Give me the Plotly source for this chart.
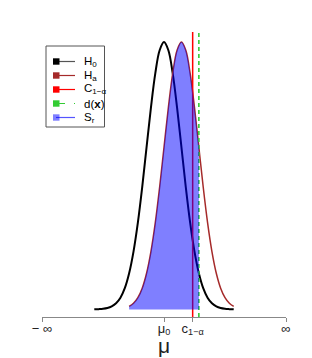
import plotly.graph_objects as go

# ---- data ----
# curve abscissae (in sigma units, mu0 = 0)
h0_x = [-4.0, -3.75, -3.5, -3.25, -3.0, -2.75, -2.5, -2.25, -2.0, -1.75, -1.5, -1.25, -1.0, -0.75, -0.5, -0.25,
        0.0, 0.25, 0.5, 0.75, 1.0, 1.25, 1.5, 1.75, 2.0, 2.25, 2.5, 2.75, 3.0, 3.25, 3.5, 3.75, 4.0]
h0_y = [0.0001, 0.0004, 0.0009, 0.0020, 0.0044, 0.0091, 0.0175, 0.0317, 0.0540, 0.0863, 0.1295, 0.1826, 0.2420,
        0.3011, 0.3521, 0.3867, 0.3989, 0.3867, 0.3521, 0.3011, 0.2420, 0.1826, 0.1295, 0.0863, 0.0540, 0.0317,
        0.0175, 0.0091, 0.0044, 0.0020, 0.0009, 0.0004, 0.0001]
ha_x = [-2.0, -1.75, -1.5, -1.25, -1.0, -0.75, -0.5, -0.25, 0.0, 0.25, 0.5, 0.75, 1.0, 1.25, 1.5, 1.75,
        2.0, 2.25, 2.5, 2.75, 3.0, 3.25, 3.5, 3.75, 4.0]
ha_y = [0.0044, 0.0091, 0.0175, 0.0317, 0.0540, 0.0863, 0.1295, 0.1826, 0.2420, 0.3011, 0.3521, 0.3867, 0.3989,
        0.3867, 0.3521, 0.3011, 0.2420, 0.1826, 0.1295, 0.0863, 0.0540, 0.0317, 0.0175, 0.0091, 0.0044]
crit_value = 1.645      # c_{1-alpha}
obs_value = 2.0         # d(x)
x_limits = [-7, 7]
tick_vals = [-7, 0, 1.645, 7]
tick_text = ["\u2212 \u221e", "\u03bc<sub>0</sub>", "c<sub>1\u2212\u03b1</sub>", "\u221e"]
legend_labels = ["H<sub>0</sub>", "H<sub>a</sub>", "C<sub>1\u2212\u03b1</sub>", "d(<b>x</b>)", "S<sub>r</sub>"]
axis_title = "\u03bc"

# ---- styles ----
OFF = 8                     # page body margin
W, H = 312, 358
# plot area in page pixels: x 42..286, y 32..317
ML, MT = 42 - OFF, 32 - OFF
MR = W - (286 - OFF)
MB = H - (317 - OFF)
Y_RANGE = [-0.01134, 0.4139]
C_H0 = "black"
C_HA = "#A52A2A"
C_C = "red"
C_D = "#33CC33"
C_S = "rgba(0,0,255,0.5)"
FONT = "Liberation Sans, Arial, sans-serif"

fig = go.Figure()

fig.add_trace(go.Scatter(x=h0_x, y=h0_y, mode="lines", line=dict(color=C_H0, width=2, shape="spline"),
                         showlegend=False, hoverinfo="skip"))
fig.add_trace(go.Scatter(x=ha_x, y=ha_y, mode="lines", line=dict(color=C_HA, width=1.5, shape="spline"),
                         showlegend=False, hoverinfo="skip"))
fig.add_trace(go.Scatter(x=[crit_value, crit_value], y=Y_RANGE, mode="lines",
                         line=dict(color=C_C, width=1.5), showlegend=False, hoverinfo="skip"))
fig.add_trace(go.Scatter(x=[obs_value, obs_value], y=Y_RANGE, mode="lines",
                         line=dict(color=C_D, width=1.6, dash="4px,3px"), showlegend=False, hoverinfo="skip"))

# rejection region fill built from Ha curve up to d(x)
fx = [x for x in ha_x if x <= obs_value]
fy = [y for x, y in zip(ha_x, ha_y) if x <= obs_value]
fig.add_trace(go.Scatter(x=fx, y=fy, mode="lines", line=dict(width=0, shape="spline"),
                         fill="tozeroy", fillcolor=C_S, showlegend=False, hoverinfo="skip"))

# ---- custom legend (paper coords from page pixels) ----
pw, ph = W - ML - MR, H - MT - MB
def px(v):
    return (v - OFF - ML) / pw
def py(v):
    return (H - MB - (v - OFF)) / ph

shapes = []
shapes.append(dict(type="rect", xref="paper", yref="paper", x0=px(46), x1=px(104.5), y0=py(127), y1=py(46),
                   line=dict(color="#555555", width=1), fillcolor="white", layer="above"))
leg_colors = [C_H0, C_HA, C_C, C_D, C_S]
leg_lines = ["#555555", C_HA, C_C, C_D, "#5555ff"]
leg_dash = ["solid", "solid", "solid", "dash", "solid"]
annotations = []
for i, lab in enumerate(legend_labels):
    yc = 61.5 + 14 * i
    shapes.append(dict(type="line", xref="paper", yref="paper", x0=px(56), x1=px(75), y0=py(yc), y1=py(yc),
                       line=dict(color=leg_lines[i], width=1.2, dash=leg_dash[i]), layer="above"))
    shapes.append(dict(type="rect", xref="paper", yref="paper", x0=px(53), x1=px(59.5), y0=py(yc + 3.2),
                       y1=py(yc - 3.2), line=dict(width=0), fillcolor=leg_colors[i], layer="above"))
    annotations.append(dict(xref="paper", yref="paper", x=px(81.5), y=py(yc), text=lab, showarrow=False,
                            xanchor="left", yanchor="middle", font=dict(size=11.5, color="black", family=FONT)))

# axis title as annotation for exact placement
annotations.append(dict(xref="x", yref="paper", x=0, y=py(345), text=axis_title, showarrow=False,
                        xanchor="center", yanchor="middle", font=dict(size=21, color="#222222", family=FONT)))

fig.update_layout(
    width=W, height=H,
    margin=dict(l=ML, r=MR, t=MT, b=MB, autoexpand=False),
    plot_bgcolor="white", paper_bgcolor="white",
    shapes=shapes, annotations=annotations,
    font=dict(family=FONT, color="#222222"),
    xaxis=dict(range=x_limits, tickvals=tick_vals, ticktext=tick_text, showgrid=False, zeroline=False,
               showline=True, linecolor="#888888", linewidth=1, ticks="outside", ticklen=4, tickcolor="#888888",
               tickfont=dict(size=13, color="#222222"), automargin=False, ticklabelstandoff=-5),
    yaxis=dict(range=Y_RANGE, visible=False, showgrid=False, zeroline=False),
)

fig.write_html("out.html")
